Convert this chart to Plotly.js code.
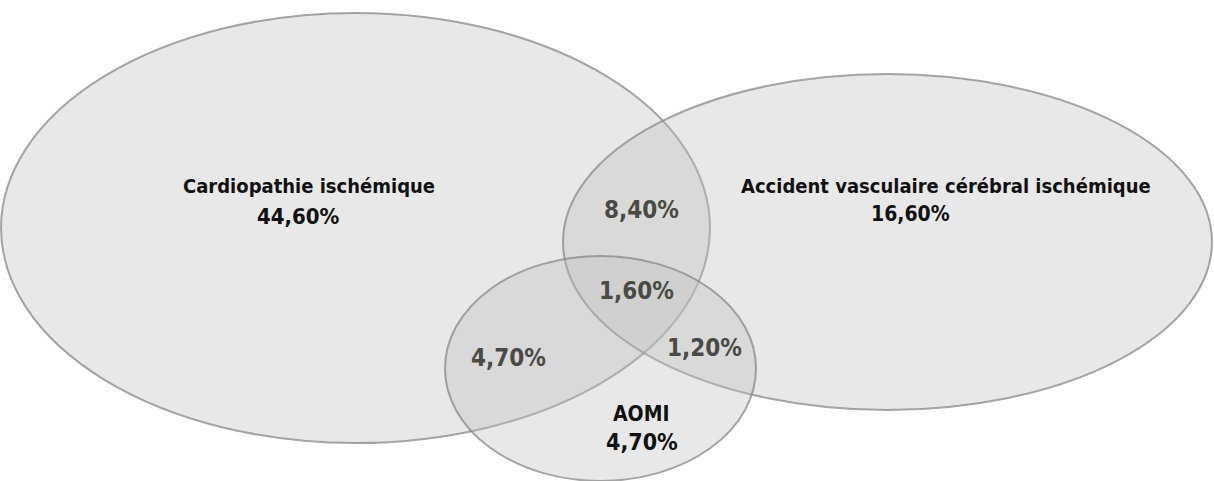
<!DOCTYPE html>
<html>
<head>
<meta charset="utf-8">
<script src="https://cdn.plot.ly/plotly-3.0.1.min.js"></script>
<style>html,body{margin:0;padding:0;background:#fff;}#chart{width:1214px;height:481px;}</style>
</head>
<body>
<div id="chart"></div>
<script>
// Data
const setNames = ["Cardiopathie ischémique", "Accident vasculaire cérébral ischémique", "AOMI"];
const setValues = ["44,60%", "16,60%", "4,70%"];
const overlapNames = ["Cardio ∩ AVC", "Cardio ∩ AVC ∩ AOMI", "AVC ∩ AOMI", "Cardio ∩ AOMI"];
const overlapValues = ["8,40%", "1,60%", "1,20%", "4,70%"];

// Geometry (pixel space of the drawing)
const ellipses = [
  {x0: 1, x1: 710, y0: 13, y1: 443},
  {x0: 563, x1: 1212, y0: 74, y1: 410},
  {x0: 445, x1: 756, y0: 256, y1: 481}
];
const setLabelPos = [
  {name: [309, 186], value: [298, 216]},
  {name: [946, 186], value: [910, 214]},
  {name: [641, 414], value: [642, 442]}
];
const nameSizes = [20, 20, 21];
const valueSizes = [22, 21, 23];
const overlapPos = [[641, 210], [636, 291], [704, 348], [508, 358]];

const FONT = '"DejaVu Sans Condensed", "Liberation Sans Narrow", sans-serif';

const shapes = ellipses.map(e => ({
  type: 'circle', xref: 'x', yref: 'y',
  x0: e.x0, x1: e.x1, y0: e.y0, y1: e.y1,
  fillcolor: 'rgba(190,190,190,0.36)',
  line: {color: 'rgba(130,130,130,0.7)', width: 2},
  layer: 'above'
}));

const annotations = [];
setNames.forEach((n, i) => {
  annotations.push({x: setLabelPos[i].name[0], y: setLabelPos[i].name[1], text: '<b>' + n + '</b>',
    showarrow: false, xref: 'x', yref: 'y', font: {family: FONT, size: nameSizes[i], color: '#111'}});
  annotations.push({x: setLabelPos[i].value[0], y: setLabelPos[i].value[1], text: '<b>' + setValues[i] + '</b>',
    showarrow: false, xref: 'x', yref: 'y', font: {family: FONT, size: valueSizes[i], color: '#111'}});
});
overlapValues.forEach((v, i) => {
  annotations.push({x: overlapPos[i][0], y: overlapPos[i][1], text: '<b>' + v + '</b>',
    showarrow: false, xref: 'x', yref: 'y', font: {family: FONT, size: 24, color: '#4a4a45'}});
});

Plotly.newPlot('chart', [{x: [], y: [], type: 'scatter', mode: 'markers', hoverinfo: 'skip', showlegend: false}], {
  width: 1214, height: 481,
  margin: {l: 0, r: 0, t: 0, b: 0},
  paper_bgcolor: '#fff', plot_bgcolor: '#fff',
  xaxis: {range: [0, 1214], visible: false, fixedrange: true},
  yaxis: {range: [481, 0], visible: false, fixedrange: true},
  shapes: shapes,
  annotations: annotations,
  showlegend: false
}, {staticPlot: true});
</script>
</body>
</html>
